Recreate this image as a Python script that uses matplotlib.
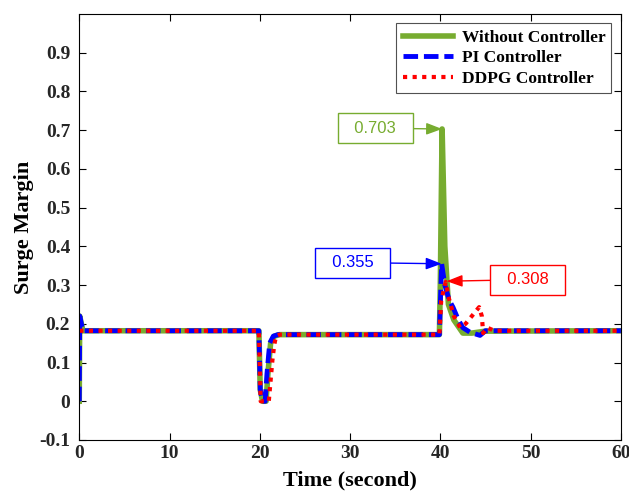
import matplotlib
matplotlib.use("Agg")
import matplotlib.pyplot as plt

# Data
t_without = [0, 0.05, 0.4, 19.9, 20.05, 20.3, 20.7, 20.9, 21.2, 21.6, 22.2, 39.9, 40.0, 40.2, 40.5, 40.9, 41.5, 42.5, 43.5, 45.0, 60]
sm_without = [0, 0.22, 0.182, 0.182, 0.03, 0.0, 0.0, 0.07, 0.15, 0.168, 0.172, 0.172, 0.30, 0.703, 0.40, 0.25, 0.21, 0.176, 0.176, 0.181, 0.182]

t_pi = [0, 0.05, 0.4, 19.9, 20.05, 20.3, 20.6, 20.8, 21.1, 21.5, 22.0, 39.9, 40.0, 40.15, 40.5, 41.0, 41.4, 42.0, 42.5, 43.3, 44.4, 45.0, 60]
sm_pi = [0, 0.22, 0.182, 0.182, 0.03, 0.0, 0.0, 0.072, 0.15, 0.168, 0.172, 0.172, 0.25, 0.355, 0.30, 0.26, 0.243, 0.21, 0.19, 0.178, 0.17, 0.182, 0.182]

t_ddpg = [0, 19.9, 20.1, 21.0, 21.4, 21.6, 21.8, 22.2, 39.9, 40.1, 40.6, 40.9, 41.5, 42.2, 42.8, 43.5, 44.3, 44.6, 44.75, 45.2, 46.0, 60]
sm_ddpg = [0.182, 0.182, 0.0, 0.0, 0.106, 0.145, 0.168, 0.172, 0.172, 0.26, 0.308, 0.27, 0.22, 0.19, 0.20, 0.22, 0.243, 0.22, 0.176, 0.19, 0.182, 0.182]

# Peak labels: text, arrow tip (t, value), box centre (t, value), colour
peak_text = ["0.703", "0.355", "0.308"]
peak_tip = [(40.2, 0.703), (40.15, 0.355), (40.7, 0.31)]
peak_box = [(32.8, 0.705), (30.3, 0.358), (49.7, 0.314)]
peak_color = ["#77AC30", "blue", "red"]

plt.rcParams['font.family'] = ['Liberation Serif', 'DejaVu Serif']

fig = plt.figure(figsize=(6.29, 4.98), dpi=100)
ax = fig.add_axes([0.126, 0.1165, 0.861, 0.8555])

ax.plot(t_without, sm_without, color="#77AC30", lw=4, label="Without Controller")
ax.plot(t_pi, sm_pi, color="blue", lw=3.5, dashes=(3, 1.2), label="PI Controller")
ax.plot(t_ddpg, sm_ddpg, color="red", lw=3, dashes=(1, 1.3), label="DDPG Controller")

for txt, tip, box, c in zip(peak_text, peak_tip, peak_box, peak_color):
    ax.annotate("  " + txt + "  ", xy=tip, xytext=box, ha="center", va="center",
                fontsize=12, family="Liberation Sans", color=c,
                bbox=dict(boxstyle="square,pad=0.45", fc="white", ec=c, lw=1),
                arrowprops=dict(arrowstyle="-|>,head_length=0.8,head_width=0.3",
                                color=c, lw=1, shrinkA=0, shrinkB=0))

ax.set_xlim(0, 60)
ax.set_ylim(-0.1, 1.0)
ax.set_xticks([0, 10, 20, 30, 40, 50, 60])
ax.set_yticks([-0.1, 0, 0.1, 0.2, 0.3, 0.4, 0.5, 0.6, 0.7, 0.8, 0.9])
ax.set_yticklabels(["-0.1", "0", "0.1", "0.2", "0.3", "0.4", "0.5", "0.6", "0.7", "0.8", "0.9"])
ax.tick_params(direction="in", top=True, right=True, labelsize=14, length=5, width=0.8)
ax.tick_params(axis="y", pad=6.5)
for lab in ax.get_xticklabels() + ax.get_yticklabels():
    lab.set_fontweight("bold")
    lab.set_color("#262626")

ax.set_xlabel("Time (second)", fontsize=16, fontweight="bold", labelpad=6)
ax.set_ylabel("Surge Margin", fontsize=16, fontweight="bold", labelpad=4)

leg = ax.legend(loc="upper right", prop={"weight": "bold", "size": 12.5},
                frameon=True, fancybox=False, edgecolor="#262626", handlelength=2.9,
                borderaxespad=0.55, labelspacing=0.25, borderpad=0.35, handletextpad=0.5)
leg.get_frame().set_linewidth(0.8)

fig.savefig("out.png", dpi=100)
